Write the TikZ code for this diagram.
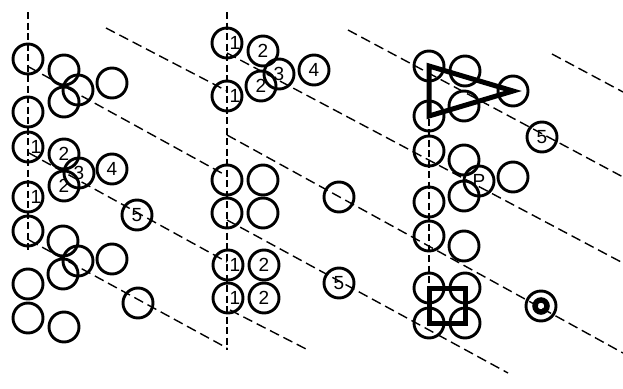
\documentclass[tikz,border=0pt]{standalone}
\usepackage{fontspec}
\setmainfont{Liberation Sans}
\begin{document}
\begin{tikzpicture}[x=1pt,y=-1pt,
  ball/.style={circle,draw,line width=2.9pt,minimum size=30pt,inner sep=0pt,font=\fontsize{19}{19}\selectfont},
  lbl/.style={inner sep=0pt,font=\fontsize{19}{19}\selectfont},
  vline/.style={line width=1.3pt,dash pattern=on 7pt off 3.5pt},
  dline/.style={line width=1.4pt,dash pattern=on 10pt off 5pt},
  heavy/.style={line width=5pt,miter limit=10}]
\useasboundingbox (0,0) rectangle (623,388);
% coordinates for line ends
\coordinate (v1s) at (28,12); \coordinate (v1e) at (28,253);
\coordinate (v2s) at (227,12); \coordinate (v2e) at (227,350);
\coordinate (v3s) at (429,66); \coordinate (v3e) at (429,328);
\coordinate (l1s) at (106,28); \coordinate (l1e) at (227,91);
\coordinate (l2s) at (29,67); \coordinate (l2e) at (227,176);
\coordinate (l3s) at (29,153); \coordinate (l3e) at (227,262);
\coordinate (l4s) at (29,240); \coordinate (l4e) at (227,348);
\coordinate (l5s) at (227,53); \coordinate (l5e) at (623,263);
\coordinate (l6s) at (348,30); \coordinate (l6e) at (623,177);
\coordinate (l7s) at (552,54); \coordinate (l7e) at (623,92);
\coordinate (l8s) at (227,135); \coordinate (l8e) at (623,353);
\coordinate (l9s) at (227,220); \coordinate (l9e) at (508,373);
\coordinate (l10s) at (230,310); \coordinate (l10e) at (308,350);
% dashed lines
\draw[vline] (v1s) -- (v1e);
\draw[vline] (v2s) -- (v2e);
\draw[vline] (v3s) -- (v3e);
\foreach \i in {1,...,10} {\draw[dline] (l\i s) -- (l\i e);}
% column 1
\node[ball] (a1) at (28,59) {};
\node[ball] (a2) at (64,70) {};
\node[ball] (a3) at (78,90) {};
\node[ball] (a4) at (112,83) {};
\node[ball] (a5) at (64,102) {};
\node[ball] (a6) at (28,112) {};
\node[ball] (b1) at (28,147) {};
\node[lbl] (b1t) at (36,147) {1};
\node[ball] (b2) at (64,154) {2};
\node[ball] (b3) at (79,173) {3};
\node[ball] (b4) at (112,169) {4};
\node[ball] (b5) at (64,186) {2};
\node[ball] (b6) at (28,197) {};
\node[lbl] (b6t) at (36,197) {1};
\node[ball] (b7) at (137,215) {5};
\node[ball] (c1) at (28,231) {};
\node[ball] (c2) at (63,241) {};
\node[ball] (c3) at (78,261) {};
\node[ball] (c4) at (112,259) {};
\node[ball] (c5) at (63,274) {};
\node[ball] (c6) at (28,284) {};
\node[ball] (c7) at (28,318) {};
\node[ball] (c8) at (64,327) {};
\node[ball] (c9) at (138,303) {};
% column 2
\node[ball] (d1) at (227,43) {};
\node[lbl] (d1t) at (235,43) {1};
\node[ball] (d2) at (263,51) {2};
\node[ball] (d3) at (279,74) {3};
\node[ball] (d4) at (314,70) {4};
\node[ball] (d5) at (261,86) {2};
\node[ball] (d6) at (227,96) {};
\node[lbl] (d6t) at (235,96) {1};
\node[ball] (e1) at (227,180) {};
\node[ball] (e2) at (263,180) {};
\node[ball] (e3) at (227,213) {};
\node[ball] (e4) at (263,213) {};
\node[ball] (e5) at (339,197) {};
\node[ball] (f1) at (228,265) {};
\node[lbl] (f1t) at (235,265) {1};
\node[ball] (f2) at (264,265) {2};
\node[ball] (f3) at (228,298) {};
\node[lbl] (f3t) at (235,298) {1};
\node[ball] (f4) at (264,298) {2};
\node[ball] (f5) at (339,283) {5};
% column 3
\node[ball] (g1) at (429,66) {};
\node[ball] (g2) at (465,71) {};
\node[ball] (g3) at (513,91) {};
\node[ball] (g4) at (464,106) {};
\node[ball] (g5) at (429,116) {};
\node[ball] (g6) at (542,137) {5};
\node[ball] (h1) at (429,151) {};
\node[ball] (h2) at (464,160) {};
\node[ball] (h3) at (479,181) {P};
\node[ball] (h4) at (513,177) {};
\node[ball] (h5) at (464,196) {};
\node[ball] (h6) at (429,202) {};
\node[ball] (i1) at (429,236) {};
\node[ball] (i2) at (464,246) {};
\node[ball] (j1) at (429,288) {};
\node[ball] (j2) at (465,288) {};
\node[ball] (j3) at (429,323) {};
\node[ball] (j4) at (465,323) {};
\node[ball] (k) at (541,306) {};
% heavy shapes
\draw[heavy] (g1.center) -- (g3.center) -- (g5.center) -- cycle;
\draw[heavy] (j1.center) -- (j2.center) -- (j4.center) -- (j3.center) -- cycle;
\draw[line width=5.5pt] (k.center) circle (6pt);
\end{tikzpicture}
\end{document}
